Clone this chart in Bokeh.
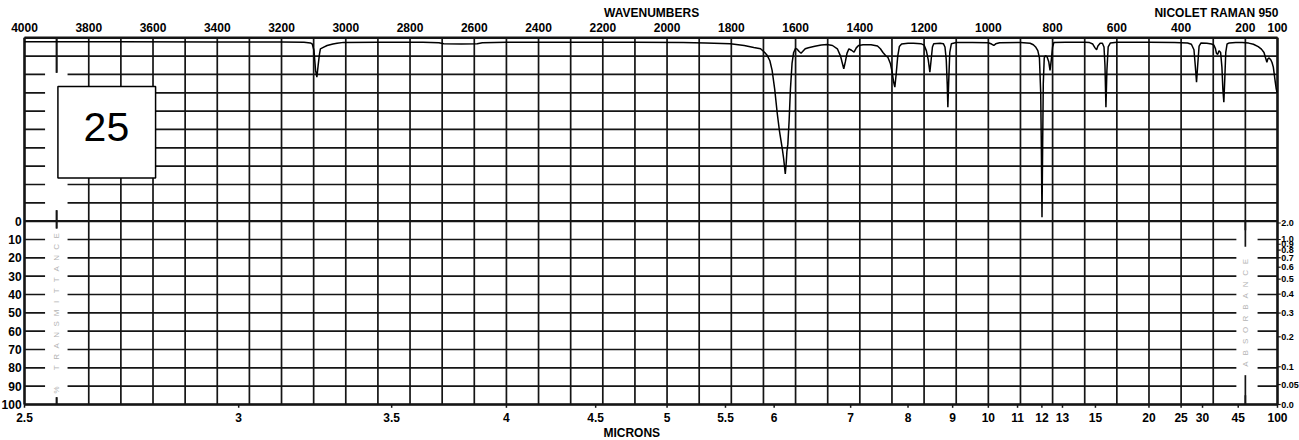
import numpy as np
from bokeh.plotting import figure
from bokeh.models import Range1d
from bokeh.core.properties import value
from bokeh.embed import file_html
from bokeh.resources import INLINE

# ---- axis tick values -------------------------------------------------------
wavenumber_ticks = [4000, 3800, 3600, 3400, 3200, 3000, 2800, 2600, 2400, 2200,
                    2000, 1800, 1600, 1400, 1200, 1000, 800, 600, 400, 200, 100]
micron_labels = ["2.5", "3", "3.5", "4", "4.5", "5", "5.5", "6", "7", "8", "9",
                 "10", "11", "12", "13", "15", "20", "25", "30", "45", "100"]
transmittance_ticks = [0, 10, 20, 30, 40, 50, 60, 70, 80, 90, 100]
absorbance_labels = ["2.0", "1.0", "0.9", "0.8", "0.7", "0.6", "0.5", "0.4",
                     "0.3", "0.2", "0.1", "0.05", "0.0"]

# ---- Raman trace: wavenumber (cm-1) and depth below the upper frame edge ----
raman_wavenumber = [
    4000, 3700, 3400, 3200, 3130, 3110, 3104, 3099, 3094, 3090, 3086, 3082, 3079,
    3070, 3058, 3040, 3027, 3007, 2900, 2760, 2710, 2695, 2640, 2591, 2575, 2500,
    2300, 2100, 1950, 1880, 1803, 1760, 1730, 1709, 1696, 1688, 1680, 1673, 1665,
    1657, 1650, 1642, 1637, 1632, 1629, 1627, 1624, 1620, 1616, 1611, 1606, 1600,
    1595, 1589, 1583, 1578, 1570, 1560, 1540, 1520, 1502, 1485, 1470, 1460, 1455,
    1450, 1445, 1440, 1434, 1426, 1418, 1411, 1404, 1390, 1365, 1345, 1336, 1328,
    1320, 1313, 1305, 1299, 1295, 1291, 1287, 1282, 1277, 1270, 1250, 1233, 1210,
    1200, 1193, 1187, 1182, 1178, 1174, 1170, 1150, 1140, 1135, 1131, 1128, 1126,
    1123, 1120, 1115, 1100, 1050, 1000, 990, 983, 977, 965, 900, 870, 860, 852,
    846, 841, 837, 835, 833, 831, 829, 826, 822, 817, 812, 808, 804, 800, 796,
    760, 700, 685, 675, 668, 663, 659, 652, 645, 640, 637, 634, 631, 627, 620,
    600, 500, 420, 380, 368, 360, 356, 352, 348, 344, 338, 320, 305, 298, 293,
    290, 286, 282, 277, 273, 270, 267, 264, 261, 257, 250, 230, 210, 190, 175,
    160, 150, 142, 137, 133, 130, 126, 121, 117, 113, 110, 107, 104, 101]
raman_depth = [
    2.2, 2.2, 2.3, 2.3, 2.4, 2.8, 3.5, 6.9, 17.8, 21.5, 15.0, 9.0, 6.0,
    5.2, 4.2, 3.4, 3.0, 2.5, 2.4, 2.4, 2.7, 3.3, 3.4, 3.3, 2.7, 2.4,
    2.4, 2.4, 2.5, 2.8, 3.3, 4.2, 5.3, 6.0, 8.0, 9.7, 12.5, 17.8, 28.0,
    41.3, 51.0, 59.7, 66.0, 74.2, 68.0, 62.0, 58.0, 45.0, 28.0, 14.0, 8.0, 5.8,
    6.2, 7.5, 8.4, 7.5, 6.0, 5.4, 4.6, 3.9, 3.7, 4.2, 6.0, 10.0, 13.5,
    16.9, 13.0, 8.5, 6.0, 6.8, 7.8, 5.5, 4.2, 3.8, 3.8, 4.5, 6.0, 8.0,
    9.7, 10.5, 14.0, 19.0, 24.0, 26.9, 20.0, 10.0, 4.8, 3.4, 3.0, 3.0, 3.2,
    4.0, 7.0, 12.0, 18.8, 12.0, 5.0, 3.2, 3.0, 3.2, 5.0, 12.0, 25.0, 37.9,
    22.0, 8.0, 3.2, 2.6, 2.5, 2.7, 3.4, 4.2, 3.3, 2.7, 2.6, 3.0, 3.8, 5.2,
    7.0, 11.0, 30.0, 60.0, 97.9, 60.0, 25.0, 11.0, 9.7, 10.5, 13.0, 17.8, 12.0, 5.0, 2.6,
    2.4, 2.4, 2.6, 3.4, 5.5, 6.5, 4.5, 3.0, 3.0, 5.0, 15.0, 37.9, 18.0, 5.0, 2.8,
    2.4, 2.4, 2.5, 2.8, 3.5, 6.5, 15.0, 24.2, 14.0, 4.5, 2.8, 3.0, 3.4, 4.0, 6.0,
    8.5, 9.0, 7.0, 8.0, 16.0, 28.0, 35.1, 22.0, 8.0, 3.4, 2.8, 2.5, 2.6, 2.9, 3.5,
    4.8, 6.2, 8.0, 11.0, 13.3, 11.5, 11.0, 12.0, 13.5, 16.0, 20.0, 24.0, 27.8, 30.0]

# ---- chart sheet ------------------------------------------------------------
# x: wavenumber in cm-1 (4000 at the left rule, 100 at the right rule)
# y: upper Raman panel spans -100..0, lower %T panel spans 0..100 (downwards);
# the ranges extend past the rules so the printed scales fit on the sheet.
GRID = "#151515"
FONT = "Liberation Sans"

p = figure(width=1299, height=440, output_backend="svg", toolbar_location=None,
           x_range=Range1d(4074.7, 31.5), y_range=Range1d(119.63, -120.34),
           x_axis_location=None, y_axis_location=None, min_border=0)
p.grid.visible = False
p.outline_line_color = None
p.background_fill_color = "white"
p.border_fill_color = "white"

# vertical rules every 100 cm-1
vx = list(range(100, 4001, 100))
p.segment(x0=vx, y0=[-100] * len(vx), x1=vx, y1=[100] * len(vx),
          line_color=GRID, line_width=1.7)
# horizontal rules every 10 units
hy = list(range(-100, 101, 10))
p.segment(x0=[4000] * len(hy), y0=hy, x1=[100] * len(hy), y1=hy,
          line_color=GRID, line_width=1.7)
# heavier rule between the panels and around the sheet
p.segment(x0=[4000, 4000, 4000, 4000, 100], y0=[0, -100, 100, -100, -100],
          x1=[100, 100, 100, 4000, 100], y1=[0, -100, 100, 100, 100],
          line_color=GRID, line_width=2.4)

# label columns printed on the paper
p.quad(left=[3936, 3936, 228], right=[3866, 3866, 162],
       top=[-81, 4, 5], bottom=[-6, 96, 95],
       fill_color="white", line_color=None)
p.segment(x0=[3900, 3900, 3900, 200, 200], y0=[-100, -6, 96, 0, 84],
          x1=[3900, 3900, 3900, 200, 200], y1=[-81, 4, 100, 14, 100],
          line_color=GRID, line_width=1.7)

left_caption = list("% TRANSMITTANCE")
p.text(x=[3900] * len(left_caption), y=list(np.linspace(92, 8, len(left_caption))),
       text=left_caption, angle=np.pi / 2, text_font=value(FONT),
       text_font_size="8px", text_color="#b4b4b4",
       text_align="center", text_baseline="middle")
right_caption = list("ABSORBANCE")
p.text(x=[200] * len(right_caption), y=list(np.linspace(78, 22, len(right_caption))),
       text=right_caption, angle=np.pi / 2, text_font=value(FONT),
       text_font_size="8px", text_color="#b4b4b4",
       text_align="center", text_baseline="middle")

# spectrum in the upper panel
trace_y = np.array(raman_depth) - 100
p.line(raman_wavenumber, trace_y, line_color="black", line_width=1.5)

# ---- printed scales -----------------------------------------------------------
def scale_text(x, y, labels, size, align, **kw):
    p.text(x=x, y=y, text=labels, text_font=value(FONT), text_font_style="bold",
           text_font_size=size, text_color="black", text_align=align,
           text_baseline="middle", **kw)

# wavenumber scale along the top
scale_text(wavenumber_ticks, [-105.8] * len(wavenumber_ticks),
           [str(w) for w in wavenumber_ticks], "12px", "center")
scale_text([2048], [-113.6], ["WAVENUMBERS"], "12px", "center")
scale_text([97], [-113.6], ["NICOLET RAMAN 950"], "12px", "right")

# micron scale along the bottom
micron_pos = [10000 / float(m) for m in micron_labels]
p.segment(x0=micron_pos, y0=[100] * len(micron_pos), x1=micron_pos,
          y1=[101.8] * len(micron_pos), line_color=GRID, line_width=1.5)
scale_text(micron_pos, [107.3] * len(micron_pos), micron_labels, "12px", "center")
scale_text([2110], [115.6], ["MICRONS"], "12px", "center")

# % transmittance scale on the left
scale_text([4009] * len(transmittance_ticks), transmittance_ticks,
           [str(t) for t in transmittance_ticks], "12px", "right")

# absorbance scale on the right
abs_pos = [100 * 10 ** (-float(a)) for a in absorbance_labels]
p.segment(x0=[100] * len(abs_pos), y0=abs_pos, x1=[90] * len(abs_pos), y1=abs_pos,
          line_color=GRID, line_width=1.2)
scale_text([88] * len(abs_pos), abs_pos, absorbance_labels, "9px", "left")

# sample number callout
p.quad(left=[3896], right=[3592], top=[-73.5], bottom=[-23.5],
       fill_color="white", line_color="black", line_width=1.5)
p.text(x=[3745], y=[-51.3], text=["25"], text_font=value(FONT),
       text_font_size="41px", text_align="center", text_baseline="middle",
       text_color="black")

open("out.html", "w").write(file_html(p, INLINE))
